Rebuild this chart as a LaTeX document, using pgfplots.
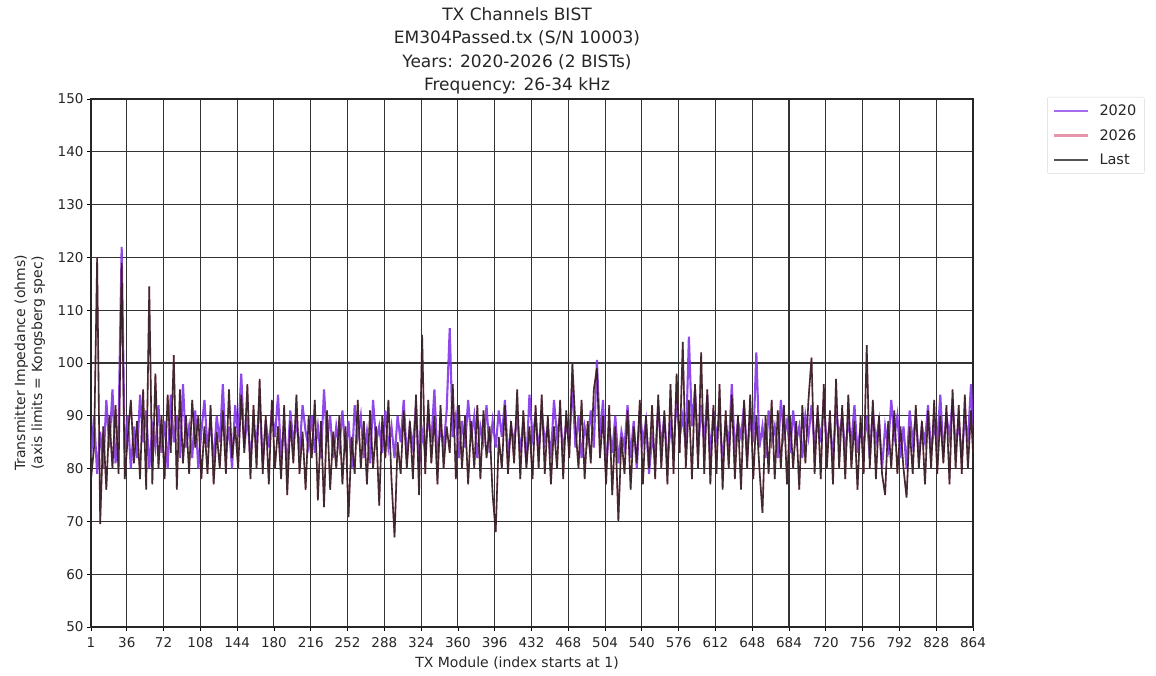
\documentclass[border=0pt]{standalone}
\usepackage{fontspec}
\setmainfont{DejaVu Sans}
\usepackage{pgfplots}
\usepackage{pgfplotstable}
\pgfplotsset{compat=1.18}

\definecolor{c2020}{RGB}{128,48,232}
\definecolor{c2026}{RGB}{222,104,134}
\definecolor{clast}{RGB}{10,10,10}

% TX module impedance (ohms): x = module index, a = 2020 BIST, b = last (2026) BIST
\pgfplotstableread{
x a b
1 82 78
4 90 84
7 79 120
10 87 69.5
13 80 88
16 93 76
19 84 90
22 95 80
25 81 92
28 88 79
31 122 119
34 83 78
37 90 86
40 80 93
43 88 81
46 82 89
49 94 78
52 85 95
55 91 76
58 80 114.5
61 88 77
64 84 98
67 92 80
70 83 90
73 89 78
76 80 94
79 94 83
82 85 101.5
85 90 76
88 82 95
91 96 81
94 84 90
97 88 79
100 82 93
103 91 84
106 80 90
109 87 78
112 93 88
115 84 79
118 89 92
121 81 77
124 90 87
127 85 80
130 96 91
133 83 79
136 88 95
139 80 82
142 92 88
145 86 80
148 98 94
151 84 83
154 90 96
157 82 78
160 88 92
163 85 80
166 93 97
169 81 79
172 89 90
175 84 77
178 91 93
181 86 80
184 94 88
187 82 78
190 88 92
193 80 75
196 91 89
199 85 81
202 89 94
205 83 79
208 92 87
211 87 76
214 84 90
217 90 82
220 83 93
223 88 74
226 82 89
229 95 72.7
232 85 91
235 90 76
238 82 87
241 88 80
244 84 90
247 91 77
250 83 88
253 89 70.8
256 80 86
259 92 79
262 86 93
265 90 80
268 82 89
271 87 77
274 81 91
277 93 80
280 85 88
283 88 73
286 83 90
289 91 82
292 84 93
295 88 78
298 82 67
301 90 85
304 85 79
307 93 91
310 82 80
313 88 89
316 84 78
319 92 94
322 80 75
325 87 105.3
328 83 79
331 90 93
334 85 81
337 95 90
340 82 77
343 88 92
346 84 80
349 91 88
352 106.6 83
355 86 96
358 90 78
361 82 92
364 89 80
367 84 90
370 93 77
373 86 89
376 90 80
379 82 92
382 88 78
385 85 91
388 92 82
391 83 88
394 89 75
397 84 68
400 91 86
403 86 80
406 93 92
409 82 79
412 88 89
415 85 81
418 90 95
421 83 78
424 89 91
427 81 80
430 94 88
433 86 78
436 90 92
439 83 80
442 91 94
445 85 79
448 88 90
451 82 77
454 93 88
457 86 80
460 90 93
463 83 78
466 89 91
469 85 82
472 96 100
475 84 88
478 90 80
481 82 93
484 88 78
487 85 89
490 91 81
493 84 95
496 100.6 99
499 86 82
502 93 90
505 80 77
508 88 92
511 83 75
514 90 88
517 81 70
520 87 86
523 84 79
526 92 91
529 82 76
532 89 88
535 80 81
538 91 93
541 85 77
544 89 90
547 79 80
550 86 92
553 82 78
556 92 94
559 84 80
562 90 91
565 81 77
568 88 96
571 84 79
574 93 98
577 86 83
580 90 104
583 84 80
586 105 93
589 88 78
592 95 96
595 83 80
598 92 102
601 85 79
604 94 95
607 82 77
610 91 92
613 86 79
616 90 96
619 81 76
622 89 91
625 84 80
628 96 94
631 83 78
634 89 90
637 86 76
640 92 93
643 82 80
646 90 94
649 85 78
652 102 90
655 84 80
658 88 71.6
661 82 90
664 91 79
667 85 93
670 88 78
673 82 91
676 93 80
679 86 92
682 89 77
685 83 90
688 91 80
691 85 89
694 88 76
697 82 92
700 90 81
703 86 93
706 92 101
709 84 79
712 90 92
715 85 78
718 93 96
721 84 80
724 89 91
727 82 77
730 91 97
733 86 80
736 90 92
739 83 78
742 89 94
745 85 80
748 92 89
751 83 76
754 88 90
757 84 79
760 90 103.4
763 82 80
766 91 93
769 85 78
772 89 90
775 80 79
778 88 75
781 84 89
784 93 80
787 86 91
790 90 79
793 82 88
796 88 80
799 80 74.5
802 91 88
805 85 79
808 90 92
811 82 80
814 88 89
817 85 77
820 92 91
823 83 80
826 88 93
829 85 79
832 94 90
835 83 81
838 90 92
841 86 77
844 93 95
847 84 80
850 89 92
853 82 79
856 90 94
859 85 80
862 96 91
864 88 83
}\txdata

\begin{document}
\begin{tikzpicture}
\useasboundingbox (-91pt,-49pt) rectangle (1065pt,627pt);
\begin{axis}[
  at={(0pt,0pt)}, anchor=south west,
  scale only axis,
  width=882pt, height=528pt,
  xmin=1, xmax=864, ymin=50, ymax=150,
  xtick={1,36,72,108,144,180,216,252,288,324,360,396,432,468,504,540,576,612,648,684,720,756,792,828,864},
  ytick={50,60,...,150},
  /pgf/number format/assume math mode=true,
  /pgf/number format/1000 sep={},
  tick label style={font=\fontsize{13.5}{14}\selectfont, text=black!85},
  xticklabel style={yshift=-3pt},
  tick align=outside, tick pos=left,
  major tick length=4pt,
  tick style={black, line width=0.8pt},
  grid=major,
  major grid style={black!80, line width=1.1pt},
  axis line style={black!85, line width=1.1pt},
  xlabel={TX Module (index starts at 1)},
  xlabel style={font=\fontsize{14}{16}\selectfont, text=black!85, at={(axis description cs:0.483,0)}, anchor=north, yshift=-26pt},
  ylabel={Transmitter Impedance (ohms)\\(axis limits = Kongsberg spec)},
  ylabel style={font=\fontsize{14}{17}\selectfont, text=black!85, align=center, at={(axis description cs:-0.048,0.5)}, anchor=south, rotate=0},
  title={TX Channels BIST\\EM304Passed.tx (S/N 10003)\\Years: 2020-2026 (2 BISTs)\\Frequency: 26-34 kHz},
  title style={font=\fontsize{17}{23.5}\selectfont, text=black!85, align=center, at={(axis description cs:0.483,1)}, anchor=south, yshift=-5pt},
  legend style={at={(axis description cs:1.084,1.004)}, anchor=north west,
    draw=black!15, rounded corners=2pt, font=\fontsize{14.5}{14.5}\selectfont,
    text=black!85, row sep=8pt, inner xsep=6pt, inner ysep=6pt,
    /tikz/every odd column/.append style={column sep=8pt}},
  legend cell align=left,
  legend image code/.code={\draw[#1, opacity=0.7, line width=2.2pt] (0pt,0pt) -- (34pt,0pt);},
]
\addplot[c2020, line width=2.1pt, opacity=0.88] table[x=x, y=a] {\txdata};
\addlegendentry{2020}
\addplot[c2026, line width=1.6pt, opacity=0.8] table[x=x, y=b] {\txdata};
\addlegendentry{2026}
\addplot[clast, line width=1.6pt, opacity=0.75] table[x=x, y=b] {\txdata};
\addlegendentry{Last}
\end{axis}
\end{tikzpicture}
\end{document}
